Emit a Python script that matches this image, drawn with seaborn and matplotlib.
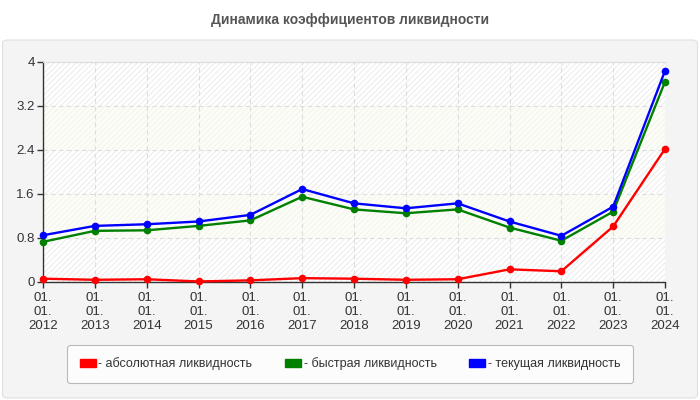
import matplotlib
matplotlib.use("Agg")
import matplotlib.pyplot as plt
import seaborn as sns
import pandas as pd
from matplotlib.patches import FancyBboxPatch, Patch

years = [2012, 2013, 2014, 2015, 2016, 2017, 2018, 2019, 2020, 2021, 2022, 2023, 2024]
absolute = [0.06, 0.04, 0.05, 0.01, 0.03, 0.07, 0.06, 0.04, 0.05, 0.23, 0.195, 1.01, 2.42]
quick = [0.73, 0.93, 0.94, 1.02, 1.12, 1.55, 1.32, 1.25, 1.32, 0.99, 0.75, 1.28, 3.64]
current = [0.85, 1.02, 1.05, 1.10, 1.22, 1.69, 1.43, 1.34, 1.43, 1.10, 0.84, 1.37, 3.84]
series_names = ["- абсолютная ликвидность", "- быстрая ликвидность", "- текущая ликвидность"]
series_colors = ["#ff0000", "#008000", "#0000ff"]
yticks = [0, 0.8, 1.6, 2.4, 3.2, 4]
ytick_labels = ["0", "0.8", "1.6", "2.4", "3.2", "4"]
xtick_labels = [f"01.\n01.\n{y}" for y in years]
title = "Динамика коэффициентов ликвидности"

df = pd.DataFrame({
    "year": years * 3,
    "value": absolute + quick + current,
    "series": [series_names[0]] * len(years) + [series_names[1]] * len(years) + [series_names[2]] * len(years),
})

sns.set_theme(style="white")
plt.rcParams["font.family"] = ["Liberation Sans", "DejaVu Sans"]
plt.rcParams["hatch.linewidth"] = 0.6

fig = plt.figure(figsize=(7, 4), dpi=100)
fig.patch.set_facecolor("white")

# panel background
panel = FancyBboxPatch((2.5 / 700, 2 / 400), 695 / 700, 358 / 400,
                       boxstyle="round,pad=0,rounding_size=0.008",
                       transform=fig.transFigure, facecolor="#f4f4f4",
                       edgecolor="#e0e0e0", linewidth=0.8, zorder=-10)
fig.patches.append(panel)

fig.text(0.5, 1 - 20 / 400, title, ha="center", va="center",
         fontsize=10, fontweight="bold", color="#555555")

ax = fig.add_axes([43 / 700, 1 - 282 / 400, (665 - 43) / 700, (282 - 62) / 400])
ax.set_zorder(1)
ax.set_facecolor("white")

# alternate bands
for i in range(len(yticks) - 1):
    lo, hi = yticks[i], yticks[i + 1]
    if i % 2 == 0:
        ax.axhspan(lo, hi, facecolor="white", edgecolor="#e8e8e8", hatch="//////", linewidth=0, zorder=0)
    else:
        ax.axhspan(lo, hi, facecolor="#fdfdf7", edgecolor="#f3f3ee", hatch="//////", linewidth=0, zorder=0)

sns.lineplot(data=df, x="year", y="value", hue="series", palette=series_colors,
             hue_order=series_names, marker="o", markersize=5.5, markeredgewidth=0,
             linewidth=1.7, ax=ax, legend=False, zorder=5, clip_on=False)

ax.set_xlim(years[0], years[-1])
ax.set_ylim(0, 4)
ax.set_xticks(years)
ax.set_xticklabels(xtick_labels, fontsize=9.5, color="#333333", linespacing=1.2)
ax.set_yticks(yticks)
ax.set_yticklabels(ytick_labels, fontsize=9.5, color="#333333")
ax.set_xlabel("")
ax.set_ylabel("")

ax.grid(True, color="#dddddd", linestyle=(0, (4, 3)), linewidth=0.8, zorder=1)
ax.set_axisbelow(True)

ax.spines["right"].set_visible(False)
ax.spines["top"].set_color("#dddddd")
ax.spines["top"].set_linewidth(0.8)
ax.spines["left"].set_color("#333333")
ax.spines["bottom"].set_color("#333333")
ax.spines["left"].set_linewidth(1)
ax.spines["bottom"].set_linewidth(1)
ax.tick_params(axis="both", which="both", length=4, width=1, color="#333333",
               left=True, bottom=True)
ax.tick_params(axis="x", pad=3.5)
ax.tick_params(axis="y", pad=2)

handles = [Patch(facecolor=c, edgecolor=c) for c in series_colors]
leg = fig.legend(handles, series_names, loc="center", bbox_to_anchor=(350 / 700, 1 - 364 / 400),
                 ncol=3, fontsize=9, frameon=True, fancybox=True, handlelength=1.3,
                 handleheight=0.6, handletextpad=0.2, columnspacing=2.6,
                 borderpad=1.0, labelcolor="#333333")
leg.get_frame().set_edgecolor("#aaaaaa")
leg.get_frame().set_facecolor("white")
leg.get_frame().set_linewidth(0.8)

fig.savefig("out.png", dpi=100, facecolor=fig.get_facecolor())
